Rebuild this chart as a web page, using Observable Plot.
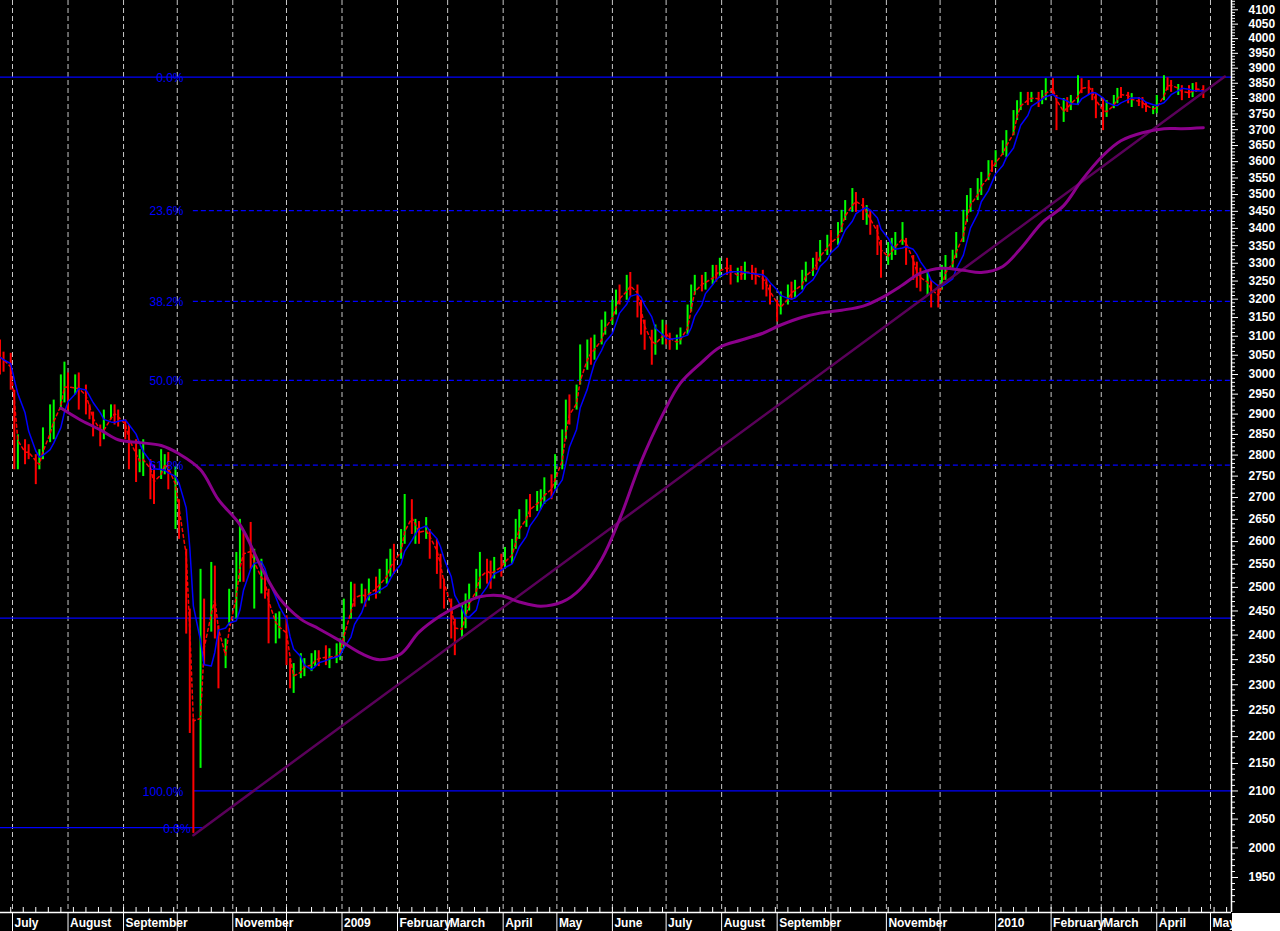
<!DOCTYPE html>
<html><head><meta charset="utf-8">
<script src="https://cdn.jsdelivr.net/npm/d3@7"></script>
<script src="https://cdn.jsdelivr.net/npm/@observablehq/plot@0.6"></script>
<style>body{margin:0;background:#000;} svg{display:block}</style>
</head><body>
<div id="chart"></div>
<script>
// ---- data (one bar per two trading days) ----
const hi = [3090,3058,3055,2960,2849,2837,2825,2801,2813,2866,
2923,2935,2999,3032,3004,2999,3004,2973,2923,2905,
2873,2910,2923,2923,2910,2886,2873,2837,2813,2837,
2789,2777,2813,2801,2806,2772,2695,2583,2454,2234,
2539,2475,2554,2546,2419,2392,2496,2576,2650,2620,
2643,2583,2561,2532,2496,2444,2448,2440,2352,2342,
2362,2352,2362,2368,2368,2378,2372,2382,2392,2475,
2511,2507,2507,2496,2518,2522,2539,2561,2583,2594,
2627,2707,2695,2650,2645,2654,2627,2605,2572,2518,
2475,2433,2465,2486,2507,2539,2576,2561,2557,2565,
2572,2587,2605,2650,2672,2695,2707,2714,2718,2746,
2753,2801,2861,2935,2948,2973,3077,3090,3095,3103,
3143,3165,3197,3225,3239,3266,3274,3239,3197,3143,
3116,3130,3143,3130,3108,3103,3122,3184,3239,3266,
3266,3274,3294,3294,3314,3314,3294,3286,3291,3303,
3294,3286,3280,3258,3239,3197,3220,3239,3247,3252,
3280,3303,3314,3331,3365,3380,3394,3417,3453,3482,
3518,3506,3488,3467,3453,3409,3365,3359,3371,3388,
3417,3371,3322,3303,3286,3274,3252,3239,3294,3322,
3337,3388,3453,3497,3518,3548,3567,3603,3603,3634,
3665,3697,3761,3793,3820,3820,3820,3820,3826,3865,
3865,3810,3800,3803,3810,3875,3865,3859,3833,3816,
3800,3793,3810,3833,3836,3820,3816,3803,3803,3787,
3774,3810,3875,3868,3859,3846,3842,3842,3849,3852,
3842];
const lo = [2999,3006,2960,2765,2765,2777,2789,2730,2765,2789,
2830,2837,2910,2928,2910,2948,2910,2898,2886,2844,
2820,2837,2886,2873,2868,2837,2765,2735,2758,2749,
2695,2684,2742,2753,2718,2627,2605,2402,2206,2025,
2141,2338,2406,2392,2292,2332,2419,2433,2511,2511,
2539,2454,2486,2475,2382,2382,2392,2338,2292,2283,
2312,2316,2326,2336,2336,2338,2332,2342,2348,2372,
2433,2458,2465,2458,2471,2475,2486,2507,2522,2528,
2561,2594,2616,2594,2594,2605,2561,2528,2496,2454,
2392,2358,2392,2413,2450,2475,2496,2507,2496,2518,
2522,2539,2550,2583,2605,2632,2654,2668,2672,2684,
2695,2718,2765,2837,2873,2910,2973,3011,3024,3037,
3077,3103,3130,3157,3184,3197,3208,3149,3103,3063,
3024,3050,3077,3077,3063,3063,3077,3103,3165,3211,
3220,3225,3239,3247,3258,3266,3239,3245,3252,3252,
3252,3239,3225,3206,3184,3138,3157,3184,3197,3203,
3225,3247,3263,3280,3303,3322,3337,3351,3388,3423,
3447,3447,3423,3409,3380,3322,3258,3294,3308,3322,
3351,3294,3252,3230,3220,3208,3176,3176,3225,3252,
3286,3314,3359,3417,3447,3482,3497,3542,3567,3582,
3619,3613,3681,3729,3761,3777,3787,3771,3780,3793,
3810,3697,3723,3755,3761,3777,3816,3810,3793,3735,
3697,3739,3767,3783,3800,3783,3771,3774,3767,3755,
3748,3751,3793,3826,3820,3810,3793,3800,3803,3820,
3800];
const dir = "rrrrgrrrgg" + "ggggrgrrrr" + "rggrrrrrgg" + "rrggrgrrrr" + "grgrrggggr" +
            "rggrrggrrg" + "ggggrrgggg" + "grgrgrgggr" + "ggrgrgrrrr" + "rrgggggrrg" +
            "rgggggrggg" + "rgggrgggrg" + "ggggrgrrrr" + "rggrrggggg" + "rggrgrrgrg" +
            "rrrrrrggrg" + "gggrggrggg" + "grrgrrrggg" + "grrrrgrrgg" + "ggggggggrg" +
            "gggggrgrgg" + "rrgrggrrrr" + "rgggrrgrrr" + "gggrrgrrgr" + "r";
// long moving average, every 4th bar starting at bar 12
const longMA = [2915,2888,2861,2837,2830,2823,2803,2765,2695,2638,
2543,2477,2433,2413,2388,2362,2350,2362,2406,2440,
2465,2480,2482,2469,2460,2469,2496,2561,2650,2784,
2898,2978,3032,3071,3090,3108,3130,3151,3162,3170,
3181,3203,3239,3272,3286,3280,3274,3291,3342,3417,
3467,3542,3619,3665,3690,3703,3703,3706];
const fibHigh = 3870, fibLow = 2100;
const fibRatios = [0, 0.236, 0.382, 0.5, 0.618, 1];
const fibLabels = ["0.0%", "23.6%", "38.2%", "50.0%", "61.8%", "100.0%"];
const baseLevel = 2035, baseLabel = "0.0%";
const supportLevel = 2435;
const trendPoints = [{date: new Date("2008-10-10"), v: 2022}, {date: new Date("2010-05-09"), v: 3872}];
const yTicks = d3.range(1950, 4101, 50);
const yMinor = d3.range(1900, 4131, 10).filter(v => v % 50 !== 0);
const monthLabelDates = ["2008-07-01","2008-08-01","2008-09-01","2008-11-01","2009-01-01","2009-02-01","2009-03-01","2009-04-01","2009-05-01","2009-06-01","2009-07-01","2009-08-01","2009-09-01","2009-11-01","2010-01-01","2010-02-01","2010-03-01","2010-04-01","2010-05-01"];
const monthLabels = ["July","August","September","November","2009","February","March","April","May","June","July","August","September","November","2010","February","March","April","May"];

// ---- derived tables ----
const xDomain = [new Date("2008-06-24T07:00Z"), new Date("2010-05-12T17:30Z")];
const yDomain = [1892.4, 4132.8];
const tradingDays = d3.utcDay.range(new Date("2008-06-24"), new Date("2010-06-01"))
  .filter(d => d.getUTCDay() !== 0 && d.getUTCDay() !== 6);
const n = Math.min(hi.length, lo.length, dir.length);
const bars = d3.range(n).map(i => ({date: tradingDays[2 * i], hi: hi[i], lo: lo[i], up: dir[i] === "g"}));
const maData = longMA.map((v, i) => ({date: bars[12 + 4 * i].date, v}));
const fibStart = new Date("2008-10-10");
const fibLabelX = new Date("2008-10-04T12:00Z");
const fibs = fibRatios.map((r, i) => ({
  level: fibHigh - r * (fibHigh - fibLow), label: fibLabels[i],
  x1: i === 0 ? xDomain[0] : fibStart, x2: xDomain[1],
  dashed: i > 0 && i < fibRatios.length - 1, lx: fibLabelX
}));
const baseLine = [{level: baseLevel, label: baseLabel, x1: xDomain[0], x2: new Date("2008-10-15T12:00Z"), lx: new Date("2008-10-08T12:00Z")}];
const months = d3.utcMonth.range(new Date("2008-07-01"), new Date("2010-06-01"));
const weeks = d3.utcMonday.range(xDomain[0], xDomain[1]);
const labelMap = new Map(monthLabelDates.map((d, i) => [+new Date(d), monthLabels[i]]));
const labelDates = monthLabelDates.map(d => new Date(d));
const mid = d => (d.hi + d.lo) / 2;

const svg = Plot.plot({
  width: 1280, height: 931,
  marginLeft: 0, marginRight: 49, marginTop: 0, marginBottom: 19,
  style: {background: "#000", color: "#fff", fontFamily: "'Liberation Sans', Arial, sans-serif", fontSize: "12px"},
  x: {type: "utc", domain: xDomain, axis: null},
  y: {type: "log", domain: yDomain, axis: null},
  marks: [
    Plot.ruleX(months, {stroke: "#c8c8c8", strokeDasharray: "5,3"}),
    Plot.ruleY([supportLevel], {stroke: "#0000ff", strokeWidth: 1.2}),
    Plot.ruleY(fibs.filter(f => !f.dashed), {y: "level", x1: "x1", x2: "x2", stroke: "#0000ff", strokeWidth: 1.2}),
    Plot.ruleY(fibs.filter(f => f.dashed), {y: "level", x1: "x1", x2: "x2", stroke: "#0000ff", strokeWidth: 1.2, strokeDasharray: "5,3"}),
    Plot.ruleY(baseLine, {y: "level", x1: "x1", x2: "x2", stroke: "#0000ff", strokeWidth: 1.2}),
    Plot.ruleX(bars, {x: "date", y1: "lo", y2: "hi", stroke: d => d.up ? "#00ff00" : "#ff0000", strokeWidth: 2}),
    Plot.lineY(bars, Plot.windowY({k: 2, anchor: "end"}, {x: "date", y: mid, stroke: "#ff0000", strokeWidth: 1.5, strokeDasharray: "3,3"})),
    Plot.lineY(bars, Plot.windowY({k: 5, anchor: "end"}, {x: "date", y: mid, stroke: "#0000ff", strokeWidth: 1.5})),
    Plot.line(trendPoints, {x: "date", y: "v", stroke: "#5a005a", strokeWidth: 2.5}),
    Plot.line(maData, {x: "date", y: "v", stroke: "#8b008b", strokeWidth: 3, curve: "catmull-rom"}),
    Plot.text(fibs, {x: "lx", y: "level", text: "label", textAnchor: "end", fill: "#0000ff", fontSize: 12, dy: 1}),
    Plot.text(baseLine, {x: "lx", y: "level", text: "label", textAnchor: "end", fill: "#0000ff", fontSize: 12, dy: 1}),
    Plot.ruleY([yDomain[0]], {stroke: "#fff", strokeWidth: 1.5}),
    Plot.ruleX([xDomain[1]], {stroke: "#fff", strokeWidth: 1.5}),
    Plot.axisY(yTicks, {anchor: "right", tickSize: 6, tickPadding: 11, tickFormat: d => String(d), stroke: "#fff", fill: "#fff", fontSize: 12, fontWeight: "bold", label: null}),
    Plot.axisY(yMinor, {anchor: "right", tickSize: 3, tickFormat: () => "", stroke: "#fff", label: null}),
    Plot.axisX(months, {anchor: "bottom", tickSize: 19, tickFormat: () => "", stroke: "#fff", label: null}),
    Plot.axisX(weeks, {anchor: "bottom", tickSize: 5, dy: -5, tickFormat: () => "", stroke: "#fff", label: null}),
    Plot.axisX(labelDates, {anchor: "bottom", tickSize: 0, tickPadding: 6, tickFormat: d => labelMap.get(+d), textAnchor: "start", dx: 2, fill: "#fff", fontSize: 12, fontWeight: "bold", label: null})
  ]
});
d3.select(svg).append("rect").attr("x", 1232).attr("y", 913).attr("width", 48).attr("height", 18).attr("fill", "#fff");
document.getElementById("chart").appendChild(svg);
</script>
</body></html>
